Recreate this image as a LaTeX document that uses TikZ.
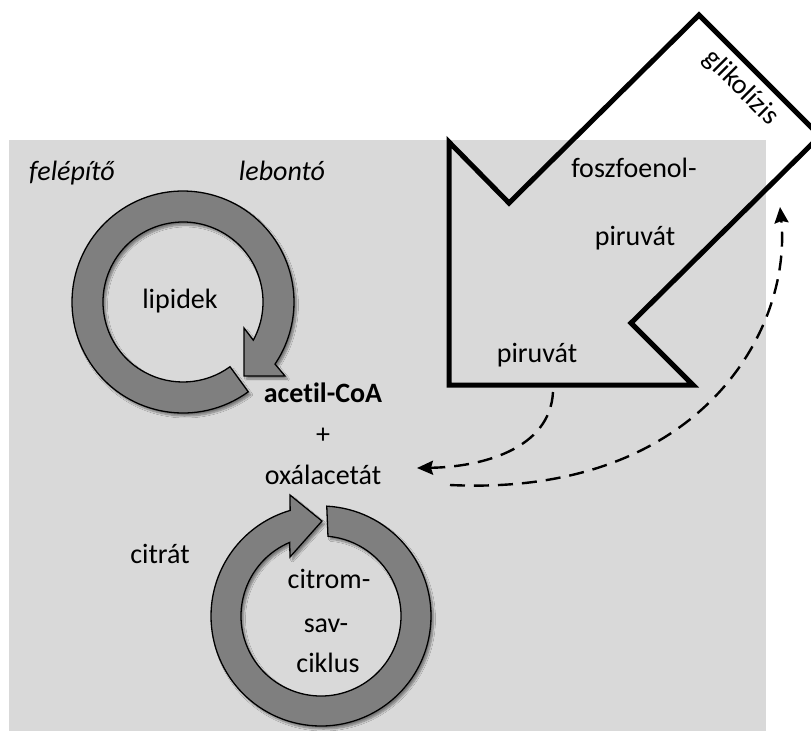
\documentclass[tikz,border=0pt]{standalone}
\usepackage{fontspec}
\setmainfont{Carlito}[Ligatures=NoCommon]
\usetikzlibrary{arrows.meta,calc,shadows.blur}
\definecolor{panel}{HTML}{D9D9D9}
\definecolor{ringgrey}{HTML}{7F7F7F}

\begin{document}
\begin{tikzpicture}[x=1pt,y=-1pt,
  lbl/.style={font=\fontsize{28}{34}\selectfont, inner sep=0pt, anchor=base},
  ring/.style={fill=ringgrey, draw=black, line width=1.3pt,
    blur shadow={shadow xshift=2.5pt, shadow yshift=-3pt, shadow blur steps=8, shadow opacity=45}},
  bigarrow/.style={draw=black, line width=5pt, miter limit=20},
  flow/.style={draw=black, line width=2.4pt, dash pattern=on 15pt off 9pt,
    -{Stealth[length=16pt,width=14pt,inset=2pt]}}
]
\clip (0,0) rectangle (811,740);

% shaded panel
\fill[panel] (9,140) rectangle (766,731);

% glycolysis arrow (outline only), tip at the lower left
\coordinate (tip) at (449,385);
\draw[bigarrow] (tip) -- ++(0,-243) -- ++(60,61) -- ++(190,-188)
  -- ++(121,121) -- ++(-189,187) -- ++(62,62) -- cycle;

% lipid cycle
\coordinate (lc) at (183,302);
\draw[ring] ($(lc)+(54:111)$) arc[start angle=54, end angle=394, radius=111]
  -- (285,376) -- (244,376) -- (244,328)
  -- ($(lc)+(388.5:80)$) arc[start angle=388.5, end angle=54, radius=80] -- cycle;

% citric acid cycle
\coordinate (cc) at (321,616);
\draw[ring] ($(cc)+(273:110)$) arc[start angle=273, end angle=613.7, radius=110]
  -- (290,495) -- (322,521) -- (290,557)
  -- ($(cc)+(607:80)$) arc[start angle=607, end angle=275, radius=80] -- cycle;

% labels
\node[lbl, font=\fontsize{28}{34}\selectfont\itshape] (anab) at (72,180) {felépítő};
\node[lbl, font=\fontsize{28}{34}\selectfont\itshape] (katab) at (282,180) {lebontó};
\node[lbl] (lip) at (180,308) {lipidek};
\node[lbl, font=\fontsize{28}{34}\selectfont\bfseries] (acoa) at (323,402) {acetil-CoA};
\node[lbl, anchor=center] (plus) at (323,436) {+};
\node[lbl] (oxa) at (323,484) {oxálacetát};
\node[lbl] (pep1) at (634,177) {foszfoenol-};
\node[lbl] (pep2) at (635,245) {piruvát};
\node[lbl] (pyr) at (537,362) {piruvát};
\node[lbl] (cit) at (160,563) {citrát};
\node[lbl] (tca1) at (329,588) {citrom-};
\node[lbl] (tca2) at (326,632) {sav-};
\node[lbl] (tca3) at (328,672) {ciklus};
\node[lbl, anchor=center, rotate=-45] (glyc) at (741,88) {glikolízis};

% dashed connectors
\coordinate (pyrOut) at (553,392);
\coordinate (oxaIn) at (417,468);
\coordinate (oxaOut) at (450,485);
\coordinate (glycIn) at (780,207);
\draw[flow] (pyrOut) .. controls (550,450) and (480,467) .. (oxaIn);
\draw[flow] (oxaOut) .. controls (700,497) and (792,330) .. (glycIn);
\end{tikzpicture}
\end{document}
